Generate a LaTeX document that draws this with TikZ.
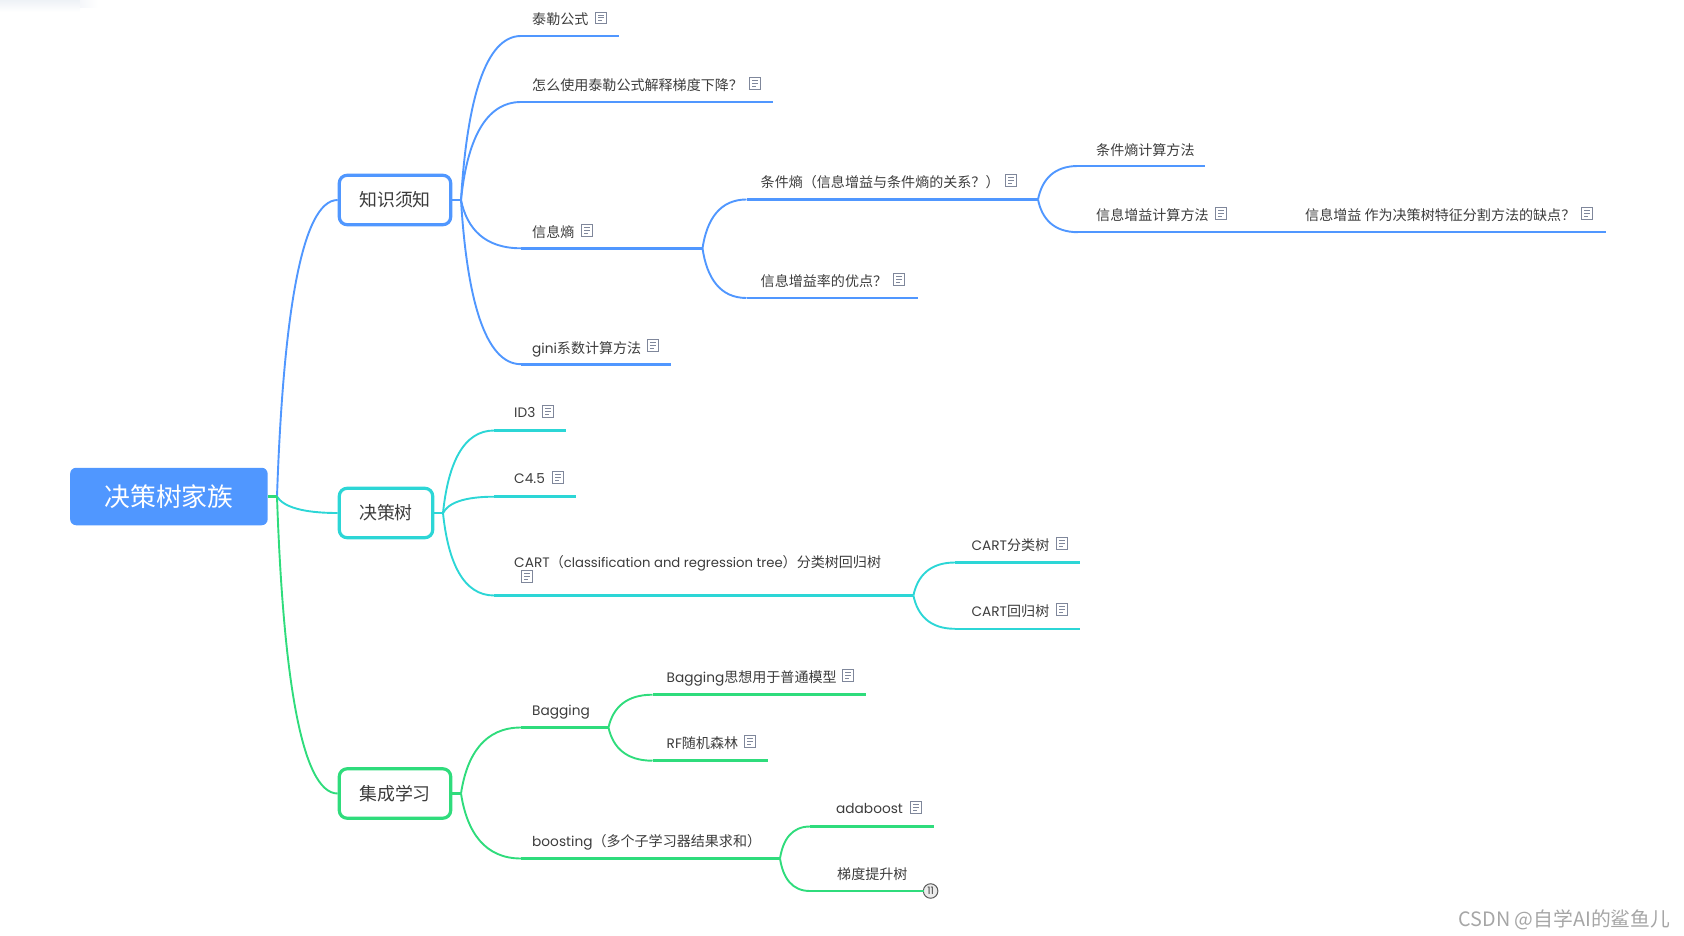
\documentclass[tikz,border=0pt]{standalone}
\usepackage{fontspec}
\usetikzlibrary{calc}
\setmainfont{Poppins}[Scale=0.975]
\newfontfamily\cjk{Noto Sans CJK SC}
\newcommand{\zh}[1]{{\cjk #1}}
\definecolor{cblue}{HTML}{5097FF}
\definecolor{cteal}{HTML}{2CD6D6}
\definecolor{cgreen}{HTML}{2FDC7C}
\definecolor{ctext}{HTML}{3C3C3C}
\definecolor{cicon}{HTML}{7F879B}
\definecolor{csmudge}{HTML}{EEF2F6}
\definecolor{csmudgeb}{HTML}{F5F7FA}
\tikzset{
  leaf/.style={anchor=base west,inner sep=0pt,text=ctext,font=\fontsize{14.05}{15}\selectfont},
  topicbox/.style={draw=#1,fill=white,line width=3.2pt,rounded corners=8pt,minimum height=49.5pt,
     inner sep=0pt,text=ctext,font=\cjk\fontsize{17.9}{20}\selectfont},
  rootbox/.style={fill=cblue,rounded corners=6pt,minimum width=197.5pt,minimum height=57.5pt,
     inner sep=0pt,text=white,font=\cjk\fontsize{25.8}{28}\selectfont},
  curvel/.style={draw=#1,line width=1.9pt},
  underl/.style={draw=#1,line width=2.6pt},
  noteicon/.pic={
    \draw[cicon,line width=.9pt] (-5.2,-5.6) rectangle (5.2,5.6);
    \draw[cicon,line width=.9pt] (-2.8,-2.8) -- (2.8,-2.8) (-2.8,0) -- (2.8,0) (-2.8,2.8) -- (.6,2.8);
  }
}
% curve only, from hub #2 to #3, colour #1
\newcommand{\bend}[3]{
  \path[curvel=#1] let \p1=(#2),\p2=(#3) in (#2) .. controls
    ({\x1+.1*(\x2-\x1)},{\y1+.6*(\y2-\y1)}) and ({\x1+.4*(\x2-\x1)},{\y2}) .. (#3);
}
% curve from hub #2 to #3 and underline on to #4, colour #1
\newcommand{\twig}[4]{
  \bend{#1}{#2}{#3}
  \draw[underl=#1] (#3) -- (#4);
}
\begin{document}
\begin{tikzpicture}[x=1pt,y=-1pt]
\useasboundingbox (0,0) rectangle (1684,936);
% smudge at the top left of the screenshot
\shade[top color=csmudge,bottom color=white] (0,0) rectangle (80,12);
\shade[left color=csmudgeb,right color=white] (80,0) rectangle (98,8);
% hubs
\coordinate (hroot) at (277,496.5);
\coordinate (hk) at (461,200);
\coordinate (hd) at (443,513);
\coordinate (hj) at (461,793.5);
\coordinate (hxs) at (702.5,248.3);
\coordinate (htj) at (1038,199.5);
\coordinate (hcart) at (913.4,595.5);
\coordinate (hbag) at (608.5,727.5);
\coordinate (hboo) at (780,858.5);
% root and topics
\node[rootbox] (root) at (168.9,496.5) {决策树家族};
\node[topicbox=cblue,minimum width=111.5pt] (zs) at (395,200) {知识须知};
\node[topicbox=cteal,minimum width=93.5pt] (jc) at (386,513) {决策树};
\node[topicbox=cgreen,minimum width=111.5pt] (jx) at (395,793.5) {集成学习};
% stubs
\draw[underl=cblue] (zs.east) -- (hk);
\draw[underl=cteal] (jc.east) -- (hd);
\draw[underl=cgreen] (jx.east) -- (hj);
% line ends
\foreach \n/\x/\y in {
 a1/521/36, a1e/619/36, a2/521/102, a2e/773/102, a3/521/248.3, a4/521/364.2, a4e/671/364.2,
 b1/746.5/199.5, b2/746.5/298, b2e/917.7/298, c1/1078/166, c1e/1204.5/166, c2/1078/232.2, c2e/1605.7/232.2,
 d1/494/430.5, d1e/566/430.5, d2/494/496.7, d2e/576/496.7, d3/494/595.5,
 e1/955/562.5, e1e/1080/562.5, e2/955/628.8, e2e/1080/628.8,
 f1/521/727.5, f2/521/858.5, g1/652.5/694.7, g1e/866/694.7, g2/652.5/760.7, g2e/768/760.7,
 h1/810/826.5, h1e/934/826.5, h2/810/891, h2e/923.5/891}
 {\coordinate (\n) at (\x,\y);}
% texts
\node[leaf] (t1) at (532,25) {\zh{泰勒公式}};
\node[leaf] (t2) at (532,91) {\zh{怎么使用泰勒公式解释梯度下降？}};
\node[leaf] (t3) at (532,237.7) {\zh{信息熵}};
\node[leaf] (t4) at (532,353) {gini\zh{系数计算方法}};
\node[leaf] (t5) at (760.5,187.7) {\zh{条件熵（信息增益与条件熵的关系？）}};
\node[leaf] (t6) at (760.5,287) {\zh{信息增益率的优点？}};
\node[leaf] (t7) at (1096,155.5) {\zh{条件熵计算方法}};
\node[leaf] (t8) at (1096,221) {\zh{信息增益计算方法}};
\node[leaf] (t9) at (1305,221) {\zh{信息增益 作为决策树特征分割方法的缺点？}};
\node[leaf] (t10) at (514,417.5) {ID3};
\node[leaf] (t11) at (514,483.5) {C4.5};
\node[leaf] (t12) at (514,567.3) {CART\zh{（}{\fontsize{13.55}{15}\selectfont classification and regression tree}\zh{）分类树回归树}};
\node[leaf] (t13) at (971.4,550) {CART\zh{分类树}};
\node[leaf] (t14) at (971.4,616.7) {CART\zh{回归树}};
\node[leaf] (t15) at (532,715.2) {Bagging};
\node[leaf] (t16) at (532,846.7) {boosting\zh{（多个子学习器结果求和）}};
\node[leaf] (t17) at (666.5,682.3) {Bagging\zh{思想用于普通模型}};
\node[leaf] (t18) at (666.5,748.7) {RF\zh{随机森林}};
\node[leaf] (t19) at (836,813.7) {adaboost};
\node[leaf] (t20) at (837,879) {\zh{梯度提升树}};
% note icons
\foreach \x/\y in {601/17.8, 755/83.5, 587/230.5, 653/345.5, 1011/180.5, 899/279.5, 1221/213.5, 1587/213.5,
  548/411.5, 558/477.5, 527/576.5, 1062/543.5, 1062/609.5, 848/675.5, 750/741.5, 916/807.5}
  {\pic at (\x,\y) {noteicon};}
% connectors
\twig{cblue}{hk}{a1}{a1e}
\twig{cblue}{hk}{a2}{a2e}
\twig{cblue}{hk}{a3}{hxs}
\twig{cblue}{hk}{a4}{a4e}
\twig{cblue}{hxs}{b1}{htj}
\twig{cblue}{hxs}{b2}{b2e}
\twig{cblue}{htj}{c1}{c1e}
\twig{cblue}{htj}{c2}{c2e}
\twig{cteal}{hd}{d1}{d1e}
\twig{cteal}{hd}{d2}{d2e}
\twig{cteal}{hd}{d3}{hcart}
\twig{cteal}{hcart}{e1}{e1e}
\twig{cteal}{hcart}{e2}{e2e}
\twig{cgreen}{hj}{f1}{hbag}
\twig{cgreen}{hj}{f2}{hboo}
\twig{cgreen}{hbag}{g1}{g1e}
\twig{cgreen}{hbag}{g2}{g2e}
\twig{cgreen}{hboo}{h1}{h1e}
\twig{cgreen}{hboo}{h2}{h2e}
% root branches
\bend{cblue}{hroot}{zs.west}
\bend{cteal}{hroot}{jc.west}
\bend{cgreen}{hroot}{jx.west}
\draw[underl=cgreen] (root.east) -- (hroot);
% collapsed marker
\node[circle,draw=black!65,fill=black!8,line width=1pt,minimum size=14.5pt,inner sep=0pt,
  font=\fontsize{10.5}{10}\selectfont,text=black!75] (more) at (930.6,891) {11};
\draw[underl=cgreen] (h2e) -- (more);
% watermark
\node[anchor=base west,inner sep=0pt,text=black!35,font=\cjk\fontsize{19.8}{20}\selectfont] (wm) at (1458.5,926.5) {CSDN @自学AI的鲨鱼儿};
\end{tikzpicture}
\end{document}
